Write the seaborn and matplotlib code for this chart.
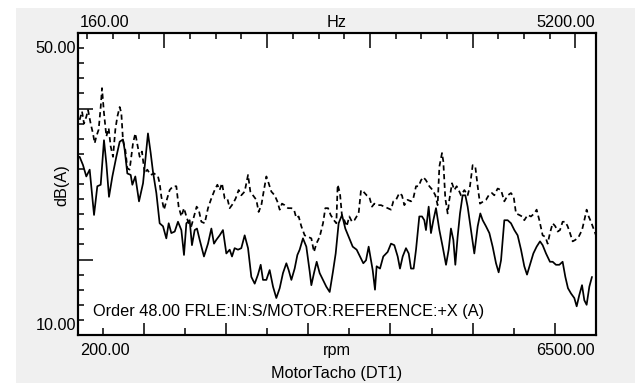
import numpy as np
import pandas as pd
import seaborn as sns
from matplotlib import pyplot as plt
from matplotlib.patches import Rectangle
from matplotlib.ticker import MultipleLocator, FixedLocator

# axis ranges (rpm on the bottom, order 48 -> Hz on top)
rpm_min, rpm_max = 200.0, 6500.0
order = 48.0
db_min, db_max = 10.0, 50.0
channel = "Order 48.00 FRLE:IN:S/MOTOR:REFERENCE:+X (A)"

# solid trace
solid_rpm = [220, 261, 301, 342, 395, 435, 476, 516, 545, 577,
             618, 666, 707, 747, 768, 800, 841, 861, 897, 942,
             991, 1051, 1084, 1112, 1153, 1193, 1234, 1274, 1303, 1335,
             1376, 1416, 1457, 1489, 1518, 1558, 1586, 1619, 1647, 1680,
             1732, 1781, 1822, 1854, 1882, 1923, 1963, 2004, 2045, 2073,
             2105, 2146, 2186, 2227, 2268, 2308, 2349, 2389, 2422, 2450,
             2491, 2531, 2572, 2612, 2653, 2693, 2734, 2762, 2795, 2835,
             2868, 2896, 2936, 2977, 3018, 3038, 3070, 3103, 3139, 3180,
             3220, 3261, 3301, 3334,
             3370, 3411, 3451, 3492, 3541, 3589, 3630, 3670, 3703, 3735,
             3763, 3784, 3812, 3832, 3873, 3913, 3966, 4007, 4047, 4088,
             4116, 4149, 4189, 4222, 4250, 4282, 4311, 4351, 4384, 4412,
             4432, 4465, 4493, 4522, 4554, 4595, 4635, 4676, 4708, 4736,
             4765, 4789, 4817, 4846, 4878, 4911, 4939, 4980, 5020, 5061,
             5093, 5122, 5162, 5203, 5243, 5284, 5316, 5345, 5385, 5426,
             5466, 5507, 5547, 5588, 5628, 5661, 5697, 5738, 5778, 5819,
             5851, 5892, 5940, 5973, 6013, 6054, 6094, 6127, 6159, 6196,
             6236, 6265, 6297, 6330, 6358, 6386, 6419, 6451]
solid_db = [33.6, 32.5, 31.0, 31.9, 25.9, 29.7, 29.9, 35.8, 32.7, 28.3,
            31.0, 33.6, 35.6, 35.9, 34.5, 31.4, 31.2, 29.9, 31.0, 27.7,
            30.1, 36.7, 34.1, 31.6, 28.8, 24.8, 24.4, 22.8, 24.8, 23.5,
            23.7, 25.0, 23.9, 20.6, 24.8, 25.2, 21.9, 23.9, 24.1, 22.6,
            20.4, 22.1, 24.1, 22.1, 22.6, 23.2, 23.9, 20.8, 21.3, 20.4,
            21.5, 21.3, 21.5, 23.2, 21.5, 17.7, 16.8, 18.0, 19.3, 17.3,
            17.3, 18.6, 16.4, 14.9, 16.2, 18.2, 19.5, 18.6, 17.3, 18.8,
            20.6, 21.3, 22.8, 21.7, 18.4, 16.6, 18.2, 19.7, 18.2, 17.3,
            16.4, 15.7, 18.4, 20.8,
            24.8, 25.9, 24.1, 23.0, 21.7, 21.3, 20.4, 19.5, 19.9, 21.7,
            19.9, 18.6, 16.0, 19.1, 18.8, 20.4, 21.0, 22.1, 21.9, 20.4,
            18.8, 20.4, 21.5, 20.8, 18.8, 18.8, 21.3, 25.7, 25.7, 25.2,
            23.9, 27.0, 23.5, 25.2, 26.8, 23.9, 21.7, 19.3, 21.3, 24.1,
            22.6, 19.3, 23.0, 26.1, 28.5, 28.5, 27.0, 23.9, 20.8, 24.4,
            26.1, 25.2, 24.4, 23.5, 21.7, 19.5, 18.3, 19.9, 25.2, 25.2,
            24.8, 23.9, 23.2, 21.3, 19.1, 18.0, 19.3, 20.8, 21.7, 22.4,
            21.9, 20.8, 19.7, 19.7, 19.3, 19.3, 19.7, 17.7, 16.2, 15.5,
            14.9, 13.8, 15.3, 16.6, 14.6, 14.0, 16.4, 17.7]

# dashed trace
dashed_rpm = [220, 249, 273, 301, 322, 354, 382, 403, 423, 451,
              476, 492, 516, 545, 573, 597, 626, 654, 678, 707,
              727, 747, 776, 800, 828, 869, 897, 922, 950, 978,
              1011, 1043, 1084, 1124, 1173, 1193, 1214, 1246, 1274, 1315,
              1355, 1396, 1424, 1457, 1489, 1518, 1546, 1578, 1611, 1643,
              1668, 1700, 1741, 1781, 1822, 1862, 1895, 1923, 1951, 1984,
              2016, 2045, 2085, 2118, 2154, 2186, 2227, 2268, 2296, 2328,
              2369, 2397, 2430, 2458, 2491, 2519, 2551, 2592, 2624, 2653,
              2681, 2713, 2754, 2795, 2827, 2855, 2884, 2916, 2957, 2997,
              3038, 3070, 3099, 3139, 3180, 3208, 3241, 3273, 3313, 3342,
              3358, 3386, 3411, 3439, 3468, 3500, 3532, 3561, 3589, 3613,
              3642, 3670, 3711, 3743, 3776, 3804, 3845, 3885, 3926, 3966,
              4007, 4035, 4068, 4108, 4140, 4169, 4209, 4250, 4278, 4311,
              4343, 4372, 4400, 4432, 4473, 4513, 4546, 4574, 4595, 4627,
              4643, 4667, 4696, 4716, 4749, 4777, 4805, 4830, 4858, 4899,
              4939, 4967, 5000, 5032, 5061, 5089, 5130, 5162, 5195, 5235,
              5263, 5304, 5345, 5385, 5426, 5466, 5499, 5527, 5567, 5600,
              5628, 5669, 5709, 5750, 5778, 5811, 5851, 5884, 5912, 5940,
              5973, 6005, 6034, 6062, 6094, 6127, 6155, 6184, 6216, 6249,
              6289, 6330, 6358, 6386, 6411, 6439, 6459, 6500]
dashed_db = [38.5, 39.6, 38.0, 38.9, 39.8, 38.0, 36.7, 35.4, 36.3, 37.2,
             40.2, 42.7, 39.4, 36.3, 37.4, 35.0, 33.6, 37.2, 38.9, 40.2,
             39.4, 35.8, 34.5, 32.1, 31.9, 35.4, 36.7, 35.2, 33.6, 34.3,
             31.4, 31.9, 31.2, 31.4, 31.0, 30.1, 28.3, 26.6, 27.7, 29.2,
             29.7, 29.7, 27.0, 25.7, 26.8, 25.7, 24.8, 24.4, 25.7, 27.0,
             26.6, 25.0, 24.8, 26.8, 28.1, 29.2, 29.9, 29.2, 30.1, 28.1,
             28.1, 26.8, 27.4, 28.1, 29.2, 28.5, 29.0, 31.2, 29.0, 28.5,
             27.9, 26.3, 27.2, 29.0, 31.0, 30.1, 29.0, 28.5, 27.7, 26.6,
             27.4, 27.2, 26.8, 26.8, 26.6, 25.5, 25.7, 24.4, 23.2, 23.0,
             22.8, 21.0, 22.1, 23.0, 24.8, 26.8, 26.8, 25.9, 25.2, 24.8,
             29.9, 28.8, 25.7, 25.2, 24.4, 25.7, 25.0, 25.2, 25.7, 26.1,
             29.2, 29.0, 28.5, 28.3, 27.0, 27.4, 27.2, 27.2, 27.0, 26.8,
             26.6, 27.7, 27.9, 28.8, 28.5, 27.2, 27.9, 27.7, 28.1, 29.7,
             29.7, 30.5, 30.9, 30.5, 29.7, 29.2, 28.5, 27.2, 32.3, 34.1,
             33.0, 28.1, 26.1, 27.9, 30.1, 29.2, 29.7, 29.2, 28.5, 29.2,
             28.5, 29.7, 32.5, 32.3, 29.7, 27.4, 27.7, 27.9, 28.5, 28.8,
             28.5, 29.4, 29.2, 27.7, 28.5, 28.8, 28.3, 26.1, 25.9, 25.7,
             25.2, 25.9, 25.7, 26.1, 26.6, 25.2, 23.2, 23.0, 22.1, 23.5,
             24.8, 24.4, 23.7, 23.9, 25.0, 25.0, 24.4, 23.5, 22.4, 22.6,
             23.0, 23.9, 25.2, 26.6, 25.7, 25.0, 24.4, 23.2]

sns.set_style("white")
plt.rcParams['font.family'] = ['Liberation Sans', 'DejaVu Sans']
plt.rcParams['font.size'] = 11.7
plt.rcParams['text.color'] = 'black'
plt.rcParams['axes.edgecolor'] = 'black'
plt.rcParams['axes.linewidth'] = 1.5
# inward ticks, set before the axes exist
plt.rcParams.update({
    'xtick.bottom': True, 'xtick.top': False,
    'ytick.left': True, 'ytick.right': False,
    'xtick.direction': 'in', 'ytick.direction': 'in',
    'xtick.major.size': 9, 'xtick.minor.size': 5,
    'ytick.major.size': 11, 'ytick.minor.size': 4,
    'xtick.major.width': 1.1, 'xtick.minor.width': 1.1,
    'ytick.major.width': 1.1, 'ytick.minor.width': 1.1,
    'xtick.color': 'black', 'ytick.color': 'black',
})

W, H = 635, 383
fig = plt.figure(figsize=(W / 100, H / 100), dpi=100, facecolor='white')


def px(x, y):
    # pixel position -> figure fraction
    return x / W, 1 - y / H


# grey panel behind the plot
fig.patches.append(Rectangle(px(16, H), 1 - 16 / W, (H - 8) / H,
                             transform=fig.transFigure, facecolor='#f0f0f0',
                             edgecolor='none', zorder=-5))

ax = fig.add_axes([78 / W, 1 - 335 / H, 518 / W, 302 / H])
ax.set_zorder(2)
ax.set_facecolor('white')

traces = pd.concat([
    pd.DataFrame({'rpm': dashed_rpm, 'dB': dashed_db, 'trace': 'dashed'}),
    pd.DataFrame({'rpm': solid_rpm, 'dB': solid_db, 'trace': 'solid'}),
], ignore_index=True)
sns.lineplot(data=traces, x='rpm', y='dB', style='trace',
             dashes={'dashed': (3, 2), 'solid': ''}, color='black', lw=1.25,
             estimator=None, sort=False, legend=False, ax=ax)

ax.set_xlim(rpm_min, rpm_max)
ax.set_ylim(db_min, db_max)
ax.set_xlabel('')
ax.set_ylabel('')
ax.xaxis.set_major_locator(FixedLocator([1000, 2000, 3000, 4000, 5000, 6000]))
ax.xaxis.set_minor_locator(MultipleLocator(500))
ax.yaxis.set_major_locator(FixedLocator([20, 40]))
ax.yaxis.set_minor_locator(MultipleLocator(2))
ax.tick_params(axis='both', which='both', direction='in', color='black',
               width=1.1, labelbottom=False, labelleft=False,
               bottom=True, left=True, top=False, right=False)
ax.tick_params(axis='x', which='major', length=9)
ax.tick_params(axis='x', which='minor', length=5)
ax.tick_params(axis='y', which='major', length=11)
ax.tick_params(axis='y', which='minor', length=4)

# Hz scale along the top edge
hz_min, hz_max = rpm_min * order / 60.0, rpm_max * order / 60.0
top = ax.twiny()
top.set_xlim(hz_min, hz_max)
top.xaxis.set_major_locator(FixedLocator([1000, 2000, 3000, 4000, 5000]))
top.xaxis.set_minor_locator(MultipleLocator(250))
top.tick_params(axis='x', which='both', direction='in', color='black',
                width=1.1, top=True, bottom=False, labeltop=False,
                labelbottom=False)
top.tick_params(axis='x', which='major', length=11)
top.tick_params(axis='x', which='minor', length=4)

# axis texts drawn as in the analyser display
fig.text(*px(80, 27), f"{hz_min:.2f}", ha='left', va='baseline')
fig.text(*px(337, 27), "Hz", ha='center', va='baseline')
fig.text(*px(595, 27), f"{hz_max:.2f}", ha='right', va='baseline')
fig.text(*px(76, 53), f"{db_max:.2f}", ha='right', va='baseline')
fig.text(*px(76, 330), f"{db_min:.2f}", ha='right', va='baseline')
fig.text(*px(62, 185), "dB(A)", ha='center', va='center', rotation=90)
fig.text(*px(80, 355), f"{rpm_min:.2f}", ha='left', va='baseline')
fig.text(*px(337, 355), "rpm", ha='center', va='baseline')
fig.text(*px(595, 355), f"{rpm_max:.2f}", ha='right', va='baseline')
fig.text(*px(337, 378), "MotorTacho (DT1)", ha='center', va='baseline')
fig.text(*px(93, 316), channel, ha='left', va='baseline', zorder=5)

fig.savefig("out.png", dpi=100, facecolor='white')
